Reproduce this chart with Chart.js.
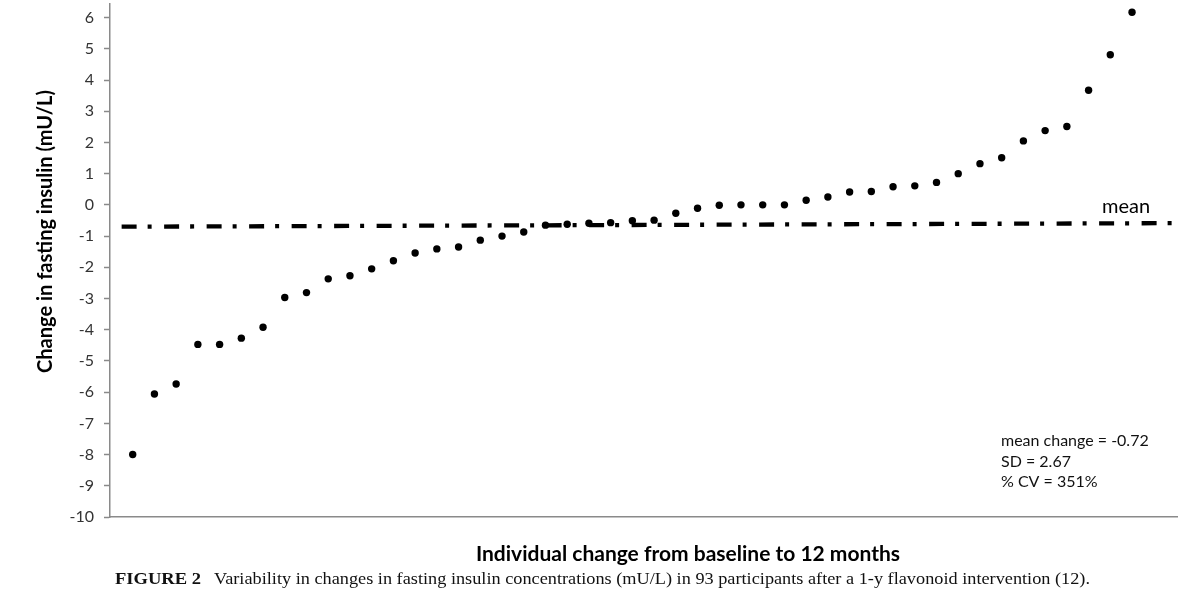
<!DOCTYPE html>
<html>
<head>
<meta charset="utf-8">
<script src="https://cdn.jsdelivr.net/npm/chart.js@4/dist/chart.umd.min.js"></script>
<style>
  html, body { margin: 0; padding: 0; background: #ffffff; }
  #wrap { width: 1200px; height: 600px; }
</style>
</head>
<body>
<div id="wrap"><canvas id="c" width="1200" height="600"></canvas></div>
<script>
// ---- data ----
const participantRank = [1,2,3,4,5,6,7,8,9,10,11,12,13,14,15,16,17,18,19,20,21,22,23,24,25,26,27,28,29,30,31,32,33,34,35,36,37,38,39,40,41,42,43,44,45,46,47];
const insulinChange = [-8.0, -6.06, -5.74, -4.47, -4.47, -4.27, -3.92, -2.97, -2.81, -2.37,
  -2.27, -2.05, -1.79, -1.54, -1.41, -1.35, -1.13, -1.0, -0.87, -0.65,
  -0.62, -0.59, -0.57, -0.51, -0.49, -0.27, -0.11, -0.01, 0.0, 0.0,
  0.0, 0.15, 0.25, 0.41, 0.43, 0.58, 0.61, 0.72, 1.0, 1.32,
  1.51, 2.05, 2.38, 2.51, 3.67, 4.81, 6.17];
const meanLineX = [0.49, 49.35];
const meanLineY = [-0.70, -0.585];
const yTickMin = -10;
const yTickMax = 6;
const yTitle = "Change in fasting insulin (mU/L)";
const xTitle = "Individual change from baseline to 12 months";
const meanLabel = "mean";
const statsLines = ["mean change = -0.72", "SD = 2.67", "% CV = 351%"];
const captionLead = "FIGURE 2";
const captionText = "Variability in changes in fasting insulin concentrations (mU/L) in 93 participants after a 1-y flavonoid intervention (12).";

const pointData = participantRank.map((r, i) => ({ x: r, y: insulinChange[i] }));
const meanData = meanLineX.map((x, i) => ({ x: x, y: meanLineY[i] }));

function fitText(ctx, text, x, y, width) {
  const w = ctx.measureText(text).width;
  ctx.save();
  ctx.translate(x, y);
  ctx.scale(width / w, 1);
  ctx.fillText(text, 0, 0);
  ctx.restore();
}

const textPlugin = {
  id: 'texts',
  afterDraw(chart) {
    const ctx = chart.ctx;
    ctx.save();
    ctx.fillStyle = '#000';
    // y title (rotated)
    ctx.save();
    ctx.translate(46, 231.5);
    ctx.rotate(-Math.PI / 2);
    ctx.font = 'bold 20px Lato';
    ctx.textAlign = 'center';
    ctx.textBaseline = 'middle';
    ctx.fillText(yTitle, 0, 0, 303);
    ctx.restore();
    // x title
    ctx.font = 'bold 21px Lato';
    ctx.textAlign = 'center';
    ctx.textBaseline = 'alphabetic';
    ctx.fillText(xTitle, 688, 561, 438);
    // mean label
    ctx.font = '20px Lato';
    ctx.textAlign = 'left';
    ctx.textBaseline = 'alphabetic';
    ctx.fillText(meanLabel, 1102, 213, 51);
    // stats
    ctx.font = '16px Lato';
    ctx.fillStyle = '#111';
    const sy = [446, 467, 487];
    statsLines.forEach((t, i) => ctx.fillText(t, 1001, sy[i]));
    // caption
    ctx.fillStyle = '#111';
    ctx.font = 'bold 17px "Liberation Serif"';
    fitText(ctx, captionLead, 115, 584, 86);
    ctx.font = '17px "Liberation Serif"';
    fitText(ctx, captionText, 214, 584, 876);
    ctx.restore();
  }
};

function build() {
  new Chart(document.getElementById('c'), {
    type: 'scatter',
    data: {
      datasets: [
        {
          label: 'change',
          data: pointData,
          pointRadius: 3.7,
          pointHoverRadius: 3.7,
          pointBackgroundColor: '#000',
          pointBorderWidth: 0,
          borderWidth: 0,
          showLine: false
        },
        {
          type: 'line',
          label: 'mean',
          data: meanData,
          borderColor: '#000',
          borderWidth: 4.3,
          borderDash: [15, 11, 4, 12.5],
          borderCapStyle: 'butt',
          pointRadius: 0,
          fill: false,
          clip: false
        }
      ]
    },
    options: {
      responsive: false,
      animation: false,
      events: [],
      layout: { padding: { left: 0, right: 23, top: 0, bottom: 83 } },
      plugins: { legend: { display: false }, tooltip: { enabled: false }, title: { display: false } },
      scales: {
        x: {
          type: 'linear',
          min: -0.045,
          max: 49.07,
          grid: { display: false, drawTicks: false },
          ticks: { display: false },
          border: { display: true, color: '#8a8a8a', width: 1.5 },
          afterFit(scale) { scale.height = 0; scale.paddingLeft = 0; scale.paddingRight = 0; }
        },
        y: {
          type: 'linear',
          min: -10,
          max: 6.445,
          ticks: {
            stepSize: 1,
            includeBounds: false,
            font: { family: 'Lato', size: 16 },
            color: '#333',
            padding: 10,
            callback: (v) => (v >= yTickMin && v <= yTickMax) ? String(v) : ''
          },
          grid: { drawOnChartArea: false, drawTicks: true, tickLength: 6, tickColor: '#8a8a8a', tickWidth: 1.5 },
          border: { display: true, color: '#8a8a8a', width: 1.5 },
          afterFit(scale) { scale.width = 110; scale.paddingTop = 0; scale.paddingBottom = 0; }
        }
      }
    },
    plugins: [textPlugin]
  });
}

const fontsToLoad = ['16px Lato', 'bold 20px Lato', '17px "Liberation Serif"', 'bold 17px "Liberation Serif"'];
if (document.fonts && document.fonts.load) {
  Promise.all(fontsToLoad.map(f => document.fonts.load(f))).then(build, build);
} else {
  build();
}
</script>
</body>
</html>
